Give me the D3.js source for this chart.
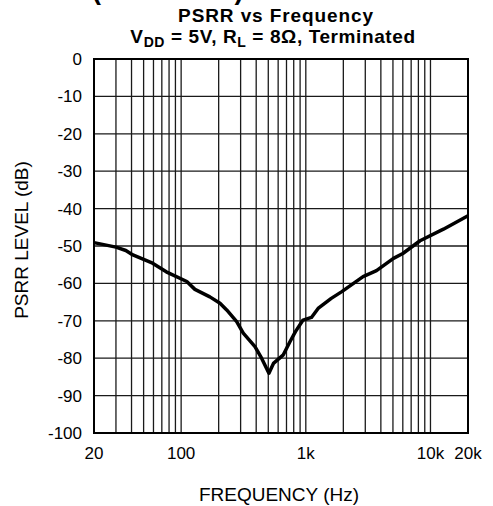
<!DOCTYPE html>
<html>
<head>
<meta charset="utf-8">
<script src="https://cdn.jsdelivr.net/npm/d3@7"></script>
<style>
  body { margin: 0; background: #fff; }
  text { font-family: "Liberation Sans", Arial, sans-serif; fill: #000; }
</style>
</head>
<body>
<svg id="chart" width="493" height="506"></svg>
<script>
// curve
var freq = [20, 30, 36, 41, 59, 76, 111, 129, 170, 205, 232, 279, 315, 391, 442, 506,
            550, 660, 746, 826, 950, 1110, 1255, 1600, 1945, 2880, 3690, 5050, 6000,
            8250, 12700, 20000];
var psrr = [-49.1, -50.3, -51.2, -52.4, -54.6, -56.9, -59.5, -61.6, -63.6, -65.3, -67.1,
            -70.2, -73.3, -76.9, -80, -84, -81.4, -79.1, -75.6, -72.9, -69.8, -69.1, -66.7,
            -64.0, -62.2, -58.2, -56.6, -53.3, -52.0, -48.6, -45.5, -41.9];

var yTicks = [0, -10, -20, -30, -40, -50, -60, -70, -80, -90, -100];
var xLabels = [20, 100, 1000, 10000, 20000];
var xLabelText = ['20', '100', '1k', '10k', '20k'];
var xGrid = [30, 40, 50, 60, 70, 80, 90, 100, 200, 300, 400, 500, 600, 700, 800, 900,
             1000, 2000, 3000, 4000, 5000, 6000, 7000, 8000, 9000, 10000];

(function () {
  var pl = 94, pr = 468, pt = 59, pb = 433;

  var svg = d3.select('#chart');

  var x = d3.scaleLog().domain([20, 20000]).range([pl, pr]);
  var y = d3.scaleLinear().domain([-100, 0]).range([pb, pt]);

  // heading of the page, cut off at the top (only the brackets peek through)
  svg.append('text')
    .attr('x', 92).attr('y', -1)
    .style('font-size', '27px').style('font-weight', 'bold')
    .text('(Continued)');

  // titles
  svg.append('text')
    .attr('x', 276).attr('y', 22)
    .attr('text-anchor', 'middle')
    .style('font-size', '19px').style('font-weight', 'bold')
    .style('letter-spacing', '0.9px')
    .text('PSRR vs Frequency');

  var t2 = svg.append('text')
    .attr('x', 273).attr('y', 43)
    .attr('text-anchor', 'middle')
    .style('font-size', '19px').style('font-weight', 'bold')
    .style('letter-spacing', '0.6px');
  t2.append('tspan').text('V');
  t2.append('tspan').attr('dy', 4).style('font-size', '14px').text('DD');
  t2.append('tspan').attr('dy', -4).text(' = 5V, R');
  t2.append('tspan').attr('dy', 4).style('font-size', '14px').text('L');
  t2.append('tspan').attr('dy', -4).text(' = 8\u03A9, Terminated');

  // grid
  svg.append('g').selectAll('line').data(xGrid).enter().append('line')
    .attr('x1', function (d) { return x(d); })
    .attr('x2', function (d) { return x(d); })
    .attr('y1', pt).attr('y2', pb)
    .attr('stroke', '#1a1a1a').attr('stroke-width', 1.3);

  svg.append('g').selectAll('line').data(yTicks.slice(1, -1)).enter().append('line')
    .attr('x1', pl).attr('x2', pr)
    .attr('y1', function (d) { return y(d); })
    .attr('y2', function (d) { return y(d); })
    .attr('stroke', '#1a1a1a').attr('stroke-width', 1.3);

  // frame
  svg.append('rect')
    .attr('x', pl).attr('y', pt)
    .attr('width', pr - pl).attr('height', pb - pt)
    .attr('fill', 'none').attr('stroke', '#000').attr('stroke-width', 2);

  // tick labels
  svg.append('g').selectAll('text').data(yTicks).enter().append('text')
    .attr('x', 82)
    .attr('y', function (d) { return y(d) + 6; })
    .attr('text-anchor', 'end')
    .style('font-size', '17px')
    .text(function (d) { return d; });

  svg.append('g').selectAll('text').data(xLabels).enter().append('text')
    .attr('x', function (d) { return x(d); })
    .attr('y', 459)
    .attr('text-anchor', 'middle')
    .style('font-size', '17px')
    .text(function (d, i) { return xLabelText[i]; });

  // axis titles
  svg.append('text')
    .attr('transform', 'translate(28,240) rotate(-90)')
    .attr('text-anchor', 'middle')
    .style('font-size', '19px')
    .text('PSRR LEVEL (dB)');

  svg.append('text')
    .attr('x', 279).attr('y', 501)
    .attr('text-anchor', 'middle')
    .style('font-size', '19px')
    .text('FREQUENCY (Hz)');

  // curve
  var line = d3.line()
    .x(function (d) { return x(d[0]); })
    .y(function (d) { return y(d[1]); });

  svg.append('path')
    .datum(d3.zip(freq, psrr))
    .attr('d', line)
    .attr('fill', 'none')
    .attr('stroke', '#000')
    .attr('stroke-width', 3.5)
    .attr('stroke-linejoin', 'round');
})();
</script>
</body>
</html>
